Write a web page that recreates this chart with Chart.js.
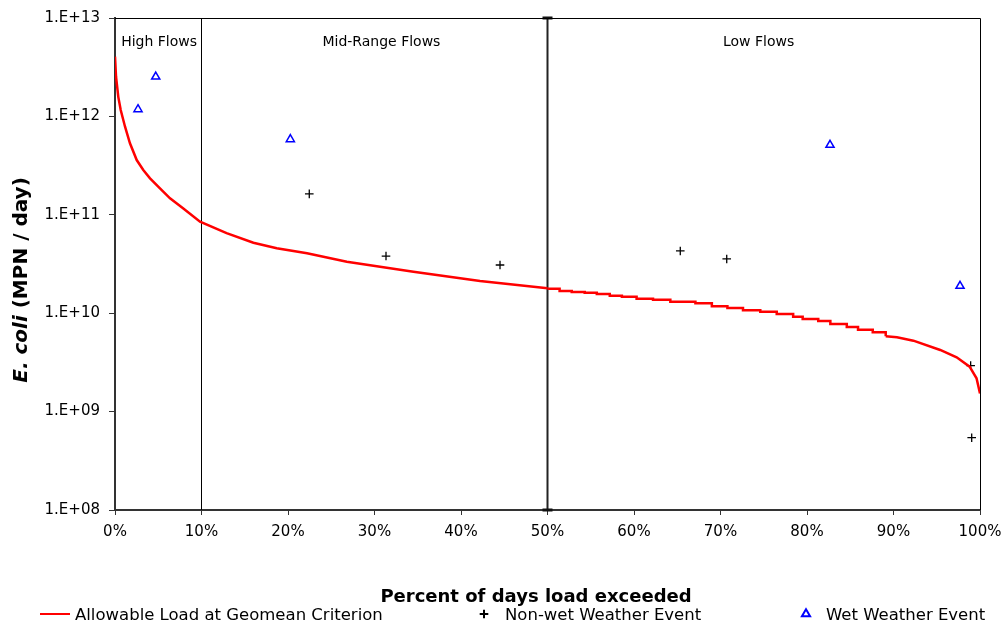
<!DOCTYPE html>
<html>
<head>
<meta charset="utf-8">
<script src="https://cdn.jsdelivr.net/npm/chart.js@4/dist/chart.umd.min.js"></script>
<style>
  html, body { margin: 0; padding: 0; background: #fff; }
  canvas { display: block; }
</style>
</head>
<body>
<canvas id="loadChart" width="1004" height="621"></canvas>
<script>
// Axis ticks
const pctTicks = [0, 10, 20, 30, 40, 50, 60, 70, 80, 90, 100];
const loadDecades = [8, 9, 10, 11, 12, 13];

// Flow regimes (boundaries in % of days exceeded)
const regimeNames = ['High Flows', 'Mid-Range Flows', 'Low Flows'];
const regimeBounds = [10, 50];

// Allowable load curve, high and mid-range section
const curvePct  = [0, 0.12, 0.38, 0.66, 1.16, 1.73, 2.51, 3.27, 4.05, 5.2, 6.36, 7.9, 9.83, 12.9, 16.0, 18.7, 22.2, 26.8, 34.5, 42.2, 50.0];
const curveLoad = [4.05e12, 2.53e12, 1.58e12, 1.16e12, 7.86e11, 5.33e11, 3.6e11, 2.85e11, 2.35e11, 1.86e11, 1.47e11, 1.16e11, 8.5e10, 6.5e10, 5.2e10, 4.57e10, 4.06e10, 3.33e10, 2.64e10, 2.12e10, 1.79e10];

// Allowable load curve, stepped low-flow section
const stepPct  = [50.0, 51.4, 52.8, 54.3, 55.7, 57.2, 58.6, 60.3, 62.2, 64.2, 67.1, 69.0, 70.8, 72.6, 74.6, 76.5, 78.4, 79.5, 81.3, 82.7, 84.6, 85.9, 87.6, 89.1];
const stepLoad = [1.77e10, 1.68e10, 1.64e10, 1.61e10, 1.57e10, 1.50e10, 1.47e10, 1.40e10, 1.37e10, 1.31e10, 1.26e10, 1.18e10, 1.13e10, 1.07e10, 1.035e10, 9.8e9, 9.2e9, 8.73e9, 8.33e9, 7.77e9, 7.24e9, 6.8e9, 6.4e9, 5.82e9];

// Allowable load curve, driest days
const tailPct  = [89.1, 90.4, 92.3, 95.4, 97.3, 98.8, 99.6, 100];
const tailLoad = [5.82e9, 5.69e9, 5.26e9, 4.23e9, 3.56e9, 2.86e9, 2.18e9, 1.53e9];

// Observed loads
const nonWetPct  = [22.46, 31.33, 44.51, 65.35, 70.72, 98.92, 99.04];
const nonWetLoad = [1.63e11, 3.81e10, 3.09e10, 4.29e10, 3.56e10, 2.93e9, 5.43e8];
const wetPct  = [2.66, 4.71, 20.27, 82.66, 97.69];
const wetLoad = [1.18e12, 2.53e12, 5.85e11, 5.12e11, 1.89e10];

const pts = (xs, ys) => xs.map((x, i) => ({ x, y: ys[i] }));
const FONT = "'DejaVu Sans', sans-serif";
const RED = '#FF0000', BLUE = '#0000FF';

Chart.defaults.font.family = FONT;
Chart.defaults.color = '#000';

const yMin = 10 ** loadDecades[0];
const yMax = 10 ** loadDecades[loadDecades.length - 1];

const curveStyle = { showLine: true, borderColor: RED, borderWidth: 2.5, pointRadius: 0, tension: 0 };

// Frame, regime labels, axis titles and legend
const annotate = {
  id: 'annotate',
  afterDraw(chart, args, opts) {
    const { ctx, chartArea: a, scales: { x } } = chart;
    ctx.save();

    // top and right edges of the plot frame
    ctx.strokeStyle = '#000';
    ctx.lineWidth = 1;
    ctx.beginPath();
    ctx.moveTo(a.left, a.top + 0.5);
    ctx.lineTo(a.right + 0.5, a.top + 0.5);
    ctx.lineTo(a.right + 0.5, a.bottom);
    ctx.stroke();

    // regime labels
    ctx.fillStyle = '#000';
    ctx.font = `14px ${FONT}`;
    ctx.textAlign = 'center';
    ctx.textBaseline = 'alphabetic';
    regimeNames.forEach((name, i) => {
      ctx.fillText(name, x.getPixelForValue(opts.labelAt[i]), a.top + 28);
    });

    // x axis title
    ctx.font = `bold 18px ${FONT}`;
    ctx.fillText('Percent of days load exceeded', opts.xTitleX, 602);

    // y axis title: italic species name + units
    ctx.save();
    ctx.translate(27, 280);
    ctx.rotate(-Math.PI / 2);
    const f1 = `italic bold 20px ${FONT}`, f2 = `bold 20px ${FONT}`;
    const t1 = 'E. coli', t2 = ' (MPN / day)';
    ctx.font = f1; const w1 = ctx.measureText(t1).width;
    ctx.font = f2; const w2 = ctx.measureText(t2).width;
    ctx.textAlign = 'left';
    ctx.font = f1; ctx.fillText(t1, -(w1 + w2) / 2, 0);
    ctx.font = f2; ctx.fillText(t2, -(w1 + w2) / 2 + w1, 0);
    ctx.restore();

    // legend
    const ly = 614, by = 620;
    ctx.font = `16.5px ${FONT}`;
    ctx.textAlign = 'left';
    ctx.strokeStyle = RED;
    ctx.lineWidth = 2;
    ctx.beginPath(); ctx.moveTo(40, ly); ctx.lineTo(70, ly); ctx.stroke();
    ctx.fillText(chart.data.datasets[0].label, 75, by);

    ctx.strokeStyle = '#000';
    ctx.fillStyle = 'rgba(0,0,0,0)';
    Chart.helpers.drawPoint(ctx, { pointStyle: 'cross', radius: 4.3, rotation: 0, borderWidth: 1.3 }, 484, ly);
    ctx.fillStyle = '#000';
    ctx.fillText(chart.data.datasets[3].label, 505, by);

    ctx.strokeStyle = BLUE;
    ctx.fillStyle = 'rgba(0,0,0,0)';
    Chart.helpers.drawPoint(ctx, { pointStyle: 'triangle', radius: 4.7, rotation: 0, borderWidth: 1.5 }, 806, ly);
    ctx.fillStyle = '#000';
    ctx.fillText(chart.data.datasets[4].label, 826, by);

    ctx.restore();
  }
};

new Chart(document.getElementById('loadChart'), {
  type: 'scatter',
  data: {
    datasets: [
      { label: 'Allowable Load at Geomean Criterion', data: pts(curvePct, curveLoad), ...curveStyle },
      { label: 'Allowable Load (low flows)', data: pts(stepPct, stepLoad), ...curveStyle, stepped: true },
      { label: 'Allowable Load (driest days)', data: pts(tailPct, tailLoad), ...curveStyle },
      {
        label: 'Non-wet Weather Event', data: pts(nonWetPct, nonWetLoad),
        pointStyle: 'cross', pointRadius: 4.3, pointBorderWidth: 1.3,
        pointBorderColor: '#000', pointBackgroundColor: '#000'
      },
      {
        label: 'Wet Weather Event', data: pts(wetPct, wetLoad),
        pointStyle: 'triangle', pointRadius: 4.7, pointBorderWidth: 1.5,
        pointBorderColor: BLUE, pointBackgroundColor: 'rgba(0,0,0,0)'
      },
      {
        label: 'High / mid boundary', data: pts([regimeBounds[0], regimeBounds[0]], [yMin, yMax]),
        showLine: true, borderColor: '#000', borderWidth: 1, pointRadius: 0, clip: false
      },
      {
        label: 'Mid / low boundary', data: pts([regimeBounds[1], regimeBounds[1]], [yMin, yMax]),
        showLine: true, borderColor: '#222', borderWidth: 2,
        pointStyle: 'line', pointRadius: 5, pointBorderWidth: 3, pointBorderColor: '#111', clip: false
      }
    ]
  },
  options: {
    responsive: false,
    animation: false,
    devicePixelRatio: 1,
    events: [],
    layout: { padding: { top: 18, right: 24, left: 0, bottom: 0 } },
    plugins: {
      legend: { display: false },
      tooltip: { enabled: false },
      annotate: { labelAt: [5.1, 30.8, 74.4], xTitleX: 536 }
    },
    scales: {
      x: {
        type: 'linear', min: 0, max: 100,
        afterFit(axis) {
          axis.height = 111;
          // end labels fit inside the layout padding already
          axis.paddingLeft = 0;
          axis.paddingRight = 0;
        },
        afterBuildTicks(axis) { axis.ticks = pctTicks.map(v => ({ value: v })); },
        ticks: { callback: v => v + '%', font: { size: 15 }, padding: 8, maxRotation: 0, autoSkip: false, color: '#000' },
        grid: { drawOnChartArea: false, tickLength: 5, color: '#333' },
        border: { color: '#333', width: 2 }
      },
      y: {
        type: 'logarithmic', min: yMin, max: yMax,
        afterFit(axis) {
          axis.width = 115;
          axis.paddingTop = 0;
          axis.paddingBottom = 0;
        },
        afterBuildTicks(axis) { axis.ticks = loadDecades.map(e => ({ value: 10 ** e })); },
        ticks: {
          callback: v => '1.E+' + String(Math.round(Math.log10(v))).padStart(2, '0'),
          font: { size: 15 }, padding: 9, color: '#000', autoSkip: false
        },
        grid: { drawOnChartArea: false, tickLength: 6, color: '#333' },
        border: { color: '#333', width: 2 }
      }
    }
  },
  plugins: [annotate]
});
</script>
</body>
</html>
